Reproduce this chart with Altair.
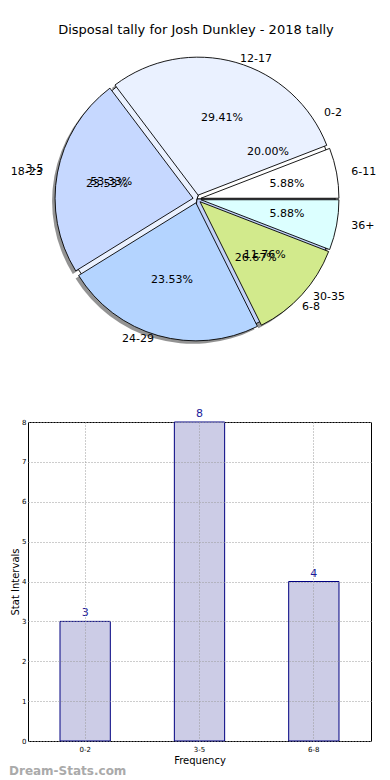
import math
import altair as alt
import pandas as pd

chart_title = "Disposal tally for Josh Dunkley - 2018 tally"

# tally pie (exploded, drawn on top)
tally_labels = ["6-11", "12-17", "18-23", "24-29", "30-35", "36+"]
tally_values = [1, 5, 4, 4, 2, 1]
tally_colors = ["#ffffff", "#eaf1ff", "#c6d8ff", "#b4d4ff", "#d2ea8c", "#dcffff"]

# frequency pie (underneath) and bar chart
freq_labels = ["0-2", "3-5", "6-8"]
freq_values = [3, 8, 4]
freq_colors = ["#ffffff", "#eaf1ff", "#c2d2fa"]

y_ticks = [0, 1, 2, 3, 4, 5, 6, 7, 8]
watermark_text = "Dream-Stats.com"

# layout (pixels)
ORIGIN_X = 27
CX, CY = 196 - ORIGIN_X, 191
TITLE_X = 195 - ORIGIN_X
R = 138
LABEL_RX, LABEL_RY = 157, 146
PCT_RX, PCT_RY = 0.6 * 146, 0.6 * 133
EXPLODE = 4
SHADOW_DX, SHADOW_DY = -3, 3
PIE_W, PIE_H = 343, 390
BAR_W, BAR_H = 343, 319
FONT = "DejaVu Sans"

TAU = 2 * math.pi


def pie_base(labels, values, colors, explode, dx=0, dy=0):
    df = pd.DataFrame({"label": labels, "value": values, "color": colors,
                       "order": list(range(len(labels)))})
    return (
        alt.Chart(df)
        .transform_joinaggregate(total="sum(value)")
        .transform_window(cum="sum(value)", sort=[alt.SortField("order")], frame=[None, 0])
        .transform_calculate(start="datum.cum - datum.value")
        .transform_calculate(
            mid=f"{TAU}*(datum.start + datum.value/2)/datum.total",
            th0=f"{2.5 * math.pi} - {TAU}*datum.start/datum.total",
            th1=f"{2.5 * math.pi} - {TAU}*datum.cum/datum.total",
            pct="format(100*datum.value/datum.total, '.2f') + '%'",
        )
        .transform_calculate(
            cx=f"{CX + dx} + {explode}*cos(datum.mid)",
            cy=f"{CY + dy} - {explode}*sin(datum.mid)",
            lx=f"{CX} + {LABEL_RX}*cos(datum.mid)",
            ly=f"{CY} - {LABEL_RY}*sin(datum.mid)",
            px=f"{CX} + ({PCT_RX + explode})*cos(datum.mid)",
            py=f"{CY} - ({PCT_RY + explode})*sin(datum.mid)",
            side="cos(datum.mid) >= 0 ? 'right' : 'left'",
        )
    )


def arc_layer(base, fill=None, opacity=1.0, stroke="black"):
    kw = dict(radius=R, opacity=opacity)
    if stroke:
        kw.update(stroke=stroke, strokeWidth=0.9)
    enc = dict(
        theta=alt.Theta("th0:Q", scale=None),
        theta2="th1:Q",
        x=alt.X("cx:Q", scale=None, axis=None),
        y=alt.Y("cy:Q", scale=None, axis=None),
    )
    if fill:
        kw["fill"] = fill
    else:
        enc["fill"] = alt.Color("color:N", scale=None)
    return base.mark_arc(**kw).encode(**enc)


def text_layers(base):
    out = []
    for side, align in (("right", "left"), ("left", "right")):
        out.append(
            base.transform_filter(f"datum.side == '{side}'")
            .mark_text(align=align, baseline="middle", fontSize=11, font=FONT, color="black")
            .encode(x=alt.X("lx:Q", scale=None, axis=None),
                    y=alt.Y("ly:Q", scale=None, axis=None),
                    text="label:N")
        )
    out.append(
        base.mark_text(align="center", baseline="middle", fontSize=11, font=FONT, color="black")
        .encode(x=alt.X("px:Q", scale=None, axis=None),
                y=alt.Y("py:Q", scale=None, axis=None),
                text="pct:N")
    )
    return out


tally = pie_base(tally_labels, tally_values, tally_colors, EXPLODE)
tally_shadow = pie_base(tally_labels, tally_values, tally_colors, EXPLODE, SHADOW_DX, SHADOW_DY)
freq = pie_base(freq_labels, freq_values, freq_colors, 0)

title_layer = alt.Chart(pd.DataFrame({"t": [chart_title]})).mark_text(
    fontSize=13, font=FONT, color="black", align="center", baseline="middle"
).encode(text="t:N", x=alt.value(TITLE_X), y=alt.value(22))

pie = alt.layer(
    arc_layer(tally_shadow, fill="#3a3a3a", opacity=0.55, stroke=None),
    arc_layer(freq),
    arc_layer(tally),
    *text_layers(freq),
    *text_layers(tally),
    title_layer,
).properties(width=PIE_W, height=PIE_H)

bar_df = pd.DataFrame({"interval": freq_labels, "count": freq_values})
bar_base = alt.Chart(bar_df)
x_enc = alt.X(
    "interval:N", sort=freq_labels, title="Frequency",
    scale=alt.Scale(paddingInner=0.56, paddingOuter=0.28),
    axis=alt.Axis(labelAngle=0, labelFontSize=7, labelPadding=4, ticks=False, domain=False,
                  grid=True, gridDash=[1, 2], gridColor="#9a9a9a", bandPosition=0.5,
                  titleFontSize=10, titleFontWeight="normal", titlePadding=3, zindex=1),
)
y_enc = alt.Y(
    "count:Q", title="Stat Intervals",
    scale=alt.Scale(domain=[0, 8], nice=False),
    axis=alt.Axis(values=y_ticks, labelFontSize=7, labelPadding=2, labelOverlap=False,
                  ticks=False, domain=False,
                  grid=True, gridDash=[1, 2], gridColor="#9a9a9a",
                  titleFontSize=10, titleFontWeight="normal", titlePadding=1, zindex=1),
)
bars = bar_base.mark_bar(fill="#ccccE6", stroke="#000080", strokeWidth=1).encode(x=x_enc, y=y_enc)
bar_text = bar_base.mark_text(baseline="bottom", dy=-3, fontSize=11, font=FONT, color="#1a1a9a").encode(
    x=x_enc, y=y_enc, text="count:Q")
mark_wm = alt.Chart(pd.DataFrame({"t": [watermark_text]})).mark_text(
    align="left", baseline="middle", fontSize=12, fontWeight="bold", font=FONT, color="#aaaaaa"
).encode(text="t:N", x=alt.value(-(ORIGIN_X - 8)), y=alt.value(349))

bar = alt.layer(bars, bar_text, mark_wm).properties(
    width=BAR_W, height=BAR_H, view=alt.ViewBackground(stroke="black", strokeWidth=1)
)

chart = alt.vconcat(pie, bar, spacing=9).properties(
    padding={"left": 0, "top": 0, "right": 0, "bottom": 0}
).configure(font=FONT).configure_view(stroke=None)

chart.save("out.html", embed_options={"renderer": "svg", "actions": False})
